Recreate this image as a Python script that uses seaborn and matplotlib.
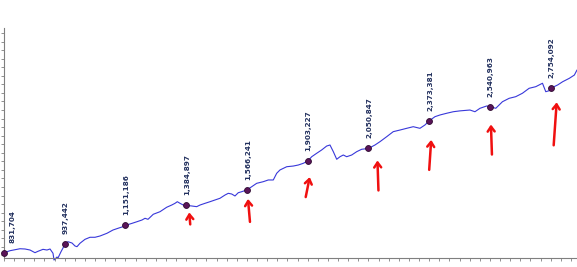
import matplotlib
matplotlib.use("Agg")
import matplotlib.pyplot as plt
from matplotlib.transforms import offset_copy
from matplotlib.ticker import MultipleLocator, NullFormatter
import numpy as np
import pandas as pd
import seaborn as sns

# ---- data ----
# highlighted yearly points (month index, value)
point_months = [0, 12, 24, 36, 48, 60, 72, 84, 96, 108]
point_values = [831704, 937442, 1151186, 1384897, 1566241,
                1903227, 2050847, 2373381, 2540963, 2754092]

# traced line (month index, value in thousands)
line_months = [0, 1.19, 3.16, 4.15, 5.14, 6.12, 6.72, 7.70, 8.49, 9.09, 9.68, 9.88,
               10.47, 10.67, 11.26, 11.66, 12, 12.64, 13.43, 14.03, 14.42, 15.01,
               16.0, 16.99, 17.98, 18.97, 20.35, 21.53, 22.52, 23.51, 24, 25.29,
               26.27, 27.26, 27.86, 28.45, 29.49, 30.82, 32.14, 33.13, 33.78, 34.24,
               34.77, 35.42, 36, 37.08, 38.07, 38.72, 39.71, 40.70, 41.68, 42.67,
               43.66, 44.31, 44.98, 45.63, 46.28, 46.96, 48, 48.93, 49.92, 51.22,
               52.21, 53.20, 53.87, 54.52, 55.85, 57.15, 58.14, 59.13, 60, 60.79,
               61.77, 62.76, 63.75, 64.40, 65.06, 65.73, 66.38, 67.03, 67.70, 68.69,
               69.68, 70.66, 72, 73.29, 74.28, 75.60, 76.90, 78.23, 79.55, 80.85,
               82.17, 83.16, 84, 85.14, 86.13, 87.45, 88.76, 90.08, 92.05, 93.04,
               94.03, 95.35, 96, 97.15, 98.47, 99.80, 101.10, 102.42, 103.74, 105.06,
               106.38, 107.03, 107.70, 108, 109.38, 110.37, 111.69, 112.68, 113.2]
line_values_k = [831.7, 855, 878, 875, 863, 832, 848, 871, 863, 875, 825, 746,
                 781, 770, 843, 887, 937.4, 960, 945, 910, 902, 942,
                 988, 1012, 1012, 1027, 1059, 1097, 1117, 1136, 1151.2, 1175,
                 1194, 1214, 1234, 1222, 1281, 1311, 1363, 1389, 1409, 1428,
                 1409, 1389, 1384.9, 1378, 1370, 1389, 1409, 1428, 1448, 1468,
                 1506, 1526, 1518, 1495, 1533, 1545, 1566.2, 1603, 1643, 1662,
                 1682, 1682, 1760, 1799, 1837, 1845, 1857, 1877, 1903.2, 1954,
                 1994, 2033, 2079, 2091, 2013, 1924, 1954, 1974, 1954, 1974,
                 2013, 2041, 2050.8, 2091, 2130, 2188, 2247, 2266, 2286, 2305,
                 2286, 2325, 2373.4, 2422, 2442, 2462, 2480, 2490, 2500, 2480,
                 2520, 2547, 2541.0, 2520, 2597, 2637, 2656, 2696, 2754, 2773,
                 2813, 2714, 2726, 2754.1, 2793, 2831, 2871, 2909, 2968]

line_df = pd.DataFrame({"month": line_months,
                        "value": np.array(line_values_k) * 1000})
pts_df = pd.DataFrame({"month": point_months, "value": point_values})

# ---- figure ----
sns.set_style("white")
plt.rcParams["font.family"] = ["DejaVu Sans"]

W, H = 577, 267
fig = plt.figure(figsize=(W / 100, H / 100), dpi=100)
ax = fig.add_axes([4 / W, 9 / H, 1 - 4 / W, (258 - 28) / H])

sns.lineplot(data=line_df, x="month", y="value", ax=ax, color="#3838DA",
             linewidth=0.8, legend=False)
for ln in ax.lines:
    ln.set_clip_on(False)
sns.scatterplot(data=pts_df, x="month", y="value", ax=ax, color="#5A1458",
                edgecolor="#2E0A30", linewidth=0.6, s=18, zorder=5,
                clip_on=False, legend=False)

for i, (m, v) in enumerate(zip(point_months, point_values)):
    dx = 8 if i == 0 else 1
    ax.annotate(f"{v:,}", xy=(m, v), xytext=(dx, 10), textcoords="offset pixels",
                rotation=90, ha="center", va="bottom", fontsize=5.2,
                fontweight="bold", color="#22305E")

# red hand-drawn style arrows under the later points (head offset, tail offset) in pixels
arrow_geom = {
    3: ((3, -7), (1, -12)),
    4: ((1, -9), (2, -23)),
    5: ((2, -16), (-4, -20)),
    6: ((9, -12), (1, -30)),
    7: ((2, -19), (-2, -30)),
    8: ((1, -18), (1, -30)),
    9: ((6, -14), (-3, -43)),
}
for i, ((hx, hy), (tx, ty)) in arrow_geom.items():
    tr = offset_copy(ax.transData, fig=fig, x=hx, y=hy, units="dots")
    ax.annotate("", xy=(point_months[i], point_values[i]), xycoords=tr,
                xytext=(tx, ty), textcoords="offset pixels",
                arrowprops=dict(arrowstyle="->,head_length=0.35,head_width=0.25",
                                color="#F01010", lw=1.8, shrinkA=0, shrinkB=0),
                annotation_clip=False)

ax.set_xlim(0, 113.2)
ax.set_ylim(769700, 3459000)
ax.set_xlabel("")
ax.set_ylabel("")

ax.xaxis.set_major_locator(MultipleLocator(2))
ax.yaxis.set_major_locator(MultipleLocator(100000))
ax.xaxis.set_major_formatter(NullFormatter())
ax.yaxis.set_major_formatter(NullFormatter())
ax.tick_params(axis="both", which="major", direction="out", length=2.5,
               width=0.6, color="#7F7F7F", bottom=True, left=True)

for side in ("top", "right"):
    ax.spines[side].set_visible(False)
for side in ("left", "bottom"):
    ax.spines[side].set_color("#7F7F7F")
    ax.spines[side].set_linewidth(0.8)

fig.savefig("out.png", dpi=100)
